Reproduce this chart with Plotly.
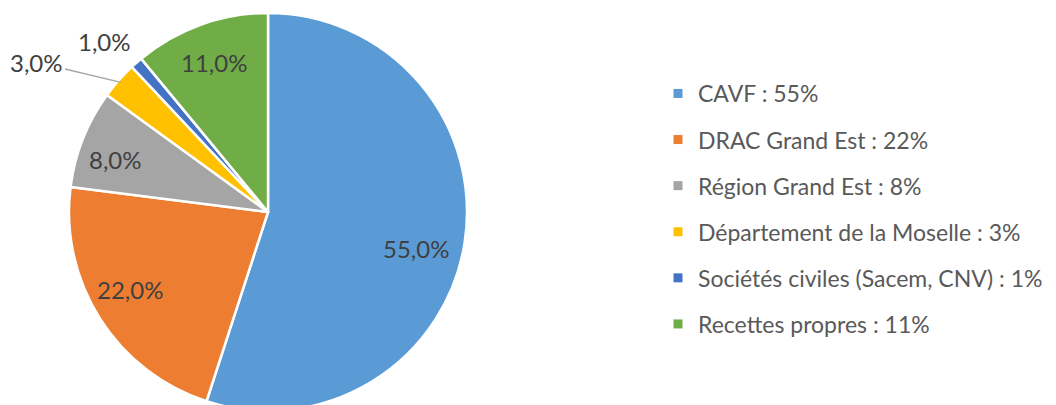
import math
import plotly.graph_objects as go

# Data
categories = ["CAVF", "DRAC Grand Est", "Région Grand Est", "Département de la Moselle",
              "Sociétés civiles (Sacem, CNV)", "Recettes propres"]
values = [55, 22, 8, 3, 1, 11]
colors = ["#5B9BD5", "#ED7D31", "#A5A5A5", "#FFC000", "#4472C4", "#70AD47"]
legend_labels = [f"{c} : {v}%" for c, v in zip(categories, values)]
slice_text = [f"{v:.1f}%".replace(".", ",") for v in values]

# label placement style: radial fraction of radius (None = outside) and angle nudge (deg)
label_radius = [0.767, 0.795, 0.81, None, None, 0.80]
label_nudge = [5.0, 3.2, -2.6, 0, 0, 0]

W, H = 1100, 405
FONT = "Lato"
LABEL_COLOR = "#404040"

# pie geometry in figure pixels
cx, cy, R = 260, 204, 199

fig = go.Figure()
fig.add_trace(go.Pie(
    labels=categories,
    values=values,
    sort=False,
    direction="clockwise",
    rotation=0,
    marker=dict(colors=colors, line=dict(color="white", width=2.5)),
    textinfo="none",
    hoverinfo="label+percent",
    showlegend=False,
    domain=dict(x=[(cx - R) / W, (cx + R) / W], y=[1 - (cy + R) / H, 1 - (cy - R) / H]),
))

# legend via dummy traces (one group per item to control spacing)
for lab, col in zip(legend_labels, colors):
    fig.add_trace(go.Scatter(x=[None], y=[None], mode="markers", name=lab,
                             legendgroup=lab, hoverinfo="skip",
                             marker=dict(symbol="square", size=9, color=col)))

total = sum(values)
cum = 0
mids = []
for v in values:
    mids.append((cum + v / 2) / total * 360.0)
    cum += v

def polar(i, f, nudge=0.0):
    a = math.radians(mids[i] + nudge)
    return cx + math.sin(a) * R * f, cy - math.cos(a) * R * f

lab_font = dict(family=FONT, size=24, color=LABEL_COLOR)

for i, f in enumerate(label_radius):
    if f is None:
        continue
    px, py = polar(i, f, label_nudge[i])
    fig.add_annotation(x=px / W, y=1 - py / H, xref="paper", yref="paper",
                       xanchor="center", yanchor="middle",
                       text=slice_text[i], showarrow=False, font=lab_font)

# Département 3% : outside with leader line
px, py = polar(3, 0.985)
fig.add_annotation(x=px / W, y=1 - py / H, xref="paper", yref="paper",
                   text=slice_text[3], showarrow=True, arrowhead=0, arrowwidth=1.5,
                   arrowcolor="#A6A6A6", ax=-84, ay=-20, standoff=0,
                   xanchor="center", yanchor="middle", font=lab_font)
# Sociétés 1% : outside
px, py = polar(4, 1.0)
fig.add_annotation(x=px / W, y=1 - py / H, xref="paper", yref="paper",
                   text=slice_text[4], showarrow=False, xshift=-32, yshift=21,
                   xanchor="center", yanchor="middle", font=lab_font)

fig.update_layout(
    width=W, height=H,
    margin=dict(l=0, r=0, t=0, b=0),
    paper_bgcolor="white", plot_bgcolor="white",
    xaxis=dict(visible=False), yaxis=dict(visible=False),
    legend=dict(x=650 / W, y=1 - 64 / H, xanchor="left", yanchor="top",
                tracegroupgap=13.2, font=dict(family=FONT, size=23, color="#595959"),
                itemclick=False, itemdoubleclick=False),
    font=dict(family=FONT),
)

fig.write_html("out.html")
